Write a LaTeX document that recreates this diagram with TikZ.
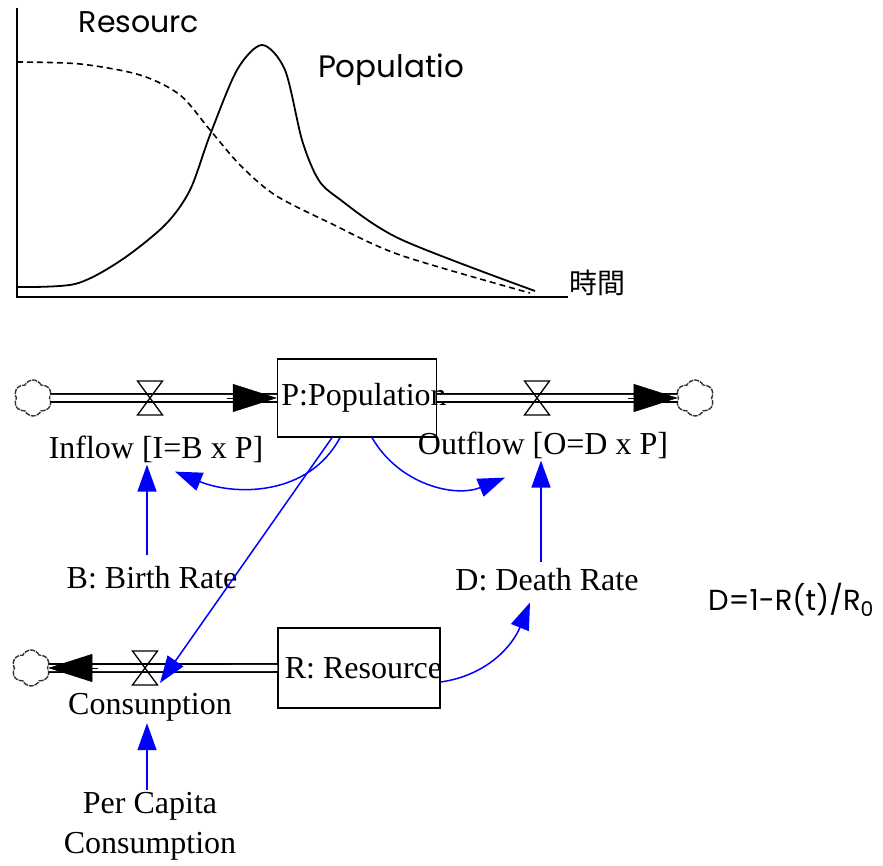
\documentclass[tikz,border=0pt]{standalone}
\usepackage{fontspec}
\setmainfont{Liberation Serif}
\newfontfamily\geo{Poppins}
\newfontfamily\cjk{Noto Sans CJK TC}
\usepackage{tikz}
\usetikzlibrary{arrows.meta,positioning,calc,shapes.symbols}

\begin{document}
\begin{tikzpicture}[x=1pt,y=1pt,
  every node/.style={inner sep=2pt,font=\fontsize{32}{40}\selectfont},
  stock/.style={draw,line width=1.3pt,minimum width=159pt,minimum height=78pt},
  puff/.style={shape=cloud,cloud puffs=6,cloud puff arc=130,aspect=1,draw=black!80,line width=1.4pt,
    dash pattern=on 5pt off 1pt,minimum width=38pt,minimum height=36pt,inner sep=0pt},
  pipe/.style={draw,double=white,double distance=6pt,line width=1.8pt},
  head/.style={line width=0.5pt,-{Triangle[length=44pt,width=28pt]}},
  link/.style={draw=blue,line width=1.5pt,-{Triangle[length=27pt,width=19pt]}},
  valve/.pic={\draw[line width=1.3pt] (-12.5,17) -- (12.5,17) -- (-12.5,-17) -- (12.5,-17) -- cycle;}]
\useasboundingbox (0,0) rectangle (883,865);
% time plot
\draw[line width=2pt] (17,857) -- (17,568) -- (568,568);
\draw[line width=1.6pt,dash pattern=on 6pt off 4pt] plot[smooth,tension=0.5] coordinates
  {(17,803) (80,801) (140,790) (180,770) (210,735) (240,700) (275,670) (330,642) (400,610) (530,572)};
\draw[line width=1.8pt] plot[smooth,tension=0.5] coordinates
  {(17,578) (75,581) (120,604) (165,640) (190,675) (210,730) (237,795) (262,820) (285,795)
   (302,725) (318,686) (338,667) (400,626) (535,574)};
\node[font=\geo\fontsize{30}{34}\selectfont] (resLbl) at (139,843) {Resourc};
\node[font=\geo\fontsize{31}{36}\selectfont] (popLbl) at (391,795) {Populatio};
\node[font=\cjk\fontsize{28}{32}\selectfont] (timeLbl) at (597,582) {時間};

% stocks and clouds
\node[stock] (P) at (357,467) {\makebox[0pt]{\hspace{14pt}P:Population}};
\node[stock,minimum width=162pt,minimum height=80pt] (R) at (359,197) {\makebox[0pt]{\hspace{9pt}R: Resource}};
\node[puff] (cloudA) at (33,467) {};
\node[puff] (cloudB) at (695,467) {};
\node[puff] (cloudC) at (31,197) {};

% flows
\draw[pipe] (cloudA.east) -- (P.west);
\draw[pipe] (P.east) -- (cloudB.west);
\draw[pipe] (R.west) -- (cloudC.east);
\draw[head] ([xshift=-50]P.west) -- (P.west);
\draw[head] ([xshift=-50]cloudB.west) -- (cloudB.west);
\draw[head] ([xshift=50]cloudC.east) -- (cloudC.east);
\coordinate (vin) at (150,467);
\coordinate (vout) at (537,467);
\coordinate (vcon) at (145,197);
\foreach \v in {vin,vout,vcon} \pic at (\v) {valve};

% labels
\node (inflow) at (156,416) {Inflow [I=B x P]};
\node (outflow) at (543,420) {Outflow [O=D x P]};
\node (consum) at (150,158) {Consunption};
\node (birth) at (152,287) {B: Birth Rate};
\node (death) at (547,285) {D: Death Rate};
\node[align=center] (percap) at (150,39) {Per Capita\\Consumption};
\node[font=\geo\fontsize{29}{34}\selectfont] (formula) at (791,265) {D=1-R(t)/R\textsubscript{0}};

% information links
\draw[link] ([xshift=-17]P.south) to[out=-118,in=-22] ([shift={(19,-7)}]inflow.south);
\draw[link] ([xshift=15]P.south) to[out=-60,in=-158] ([shift={(-38,-17)}]outflow.south);
\draw[link] ([xshift=-25]P.south) -- ([shift={(15,-15)}]vcon);
\draw[link] ([shift={(-5,9)}]birth.north) -- ([xshift=-9]inflow.south);
\draw[link] ([shift={(-6,4)}]death.north) -- ([xshift=-2]outflow.south);
\draw[link] ([yshift=-14]R.east) to[out=8,in=-112] ([shift={(-17,-9)}]death.south);
\draw[link] ([xshift=-3]percap.north) -- ([xshift=-3]consum.south);
\end{tikzpicture}
\end{document}
